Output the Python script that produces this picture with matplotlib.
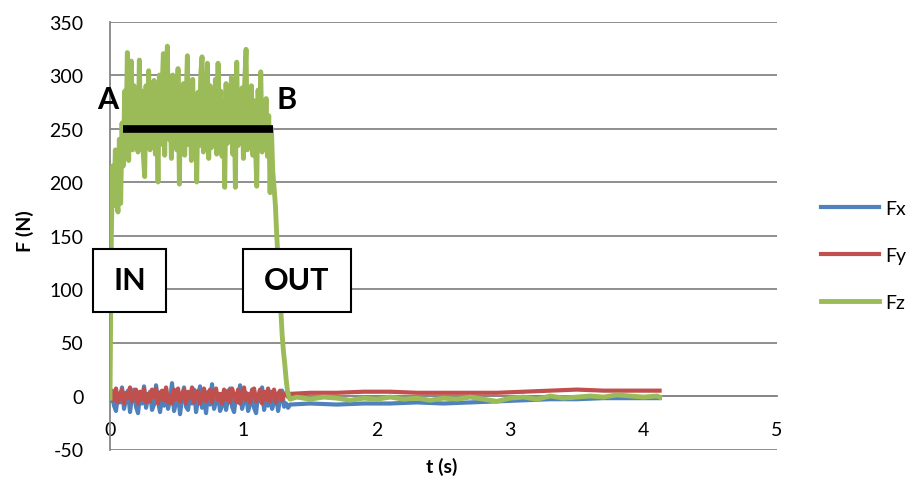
import matplotlib.pyplot as plt
from matplotlib.patches import Rectangle

plt.rcParams['font.family'] = ['Lato', 'DejaVu Sans']
plt.rcParams['axes.unicode_minus'] = False

colors = {"Fx": "#4F81BD", "Fy": "#C0504D", "Fz": "#9BBB59"}
grid_color = "#868686"

# time axis for Fz (s)
t_z = [0.00, 0.01, 0.02, 0.03, 0.04, 0.05, 0.06, 0.07, 0.08, 0.09,
       0.10, 0.11, 0.12, 0.13, 0.14, 0.15, 0.16, 0.17, 0.18, 0.19,
       0.20, 0.21, 0.22, 0.23, 0.24, 0.25, 0.26, 0.27, 0.28, 0.29,
       0.30, 0.31, 0.32, 0.33, 0.34, 0.35, 0.36, 0.37, 0.38, 0.39,
       0.40, 0.41, 0.42, 0.43, 0.44, 0.45, 0.46, 0.47, 0.48, 0.49,
       0.50, 0.51, 0.52, 0.53, 0.54, 0.55, 0.56, 0.57, 0.58, 0.59,
       0.60, 0.61, 0.62, 0.63, 0.64, 0.65, 0.66, 0.67, 0.68, 0.69,
       0.70, 0.71, 0.72, 0.73, 0.74, 0.75, 0.76, 0.77, 0.78, 0.79,
       0.80, 0.81, 0.82, 0.83, 0.84, 0.85, 0.86, 0.87, 0.88, 0.89,
       0.90, 0.91, 0.92, 0.93, 0.94, 0.95, 0.96, 0.97, 0.98, 0.99,
       1.00, 1.01, 1.02, 1.03, 1.04, 1.05, 1.06, 1.07, 1.08, 1.09,
       1.10, 1.11, 1.12, 1.13, 1.14, 1.15, 1.16, 1.17, 1.18, 1.19,
       1.20, 1.21, 1.22, 1.23, 1.24, 1.25, 1.26, 1.27, 1.28, 1.29,
       1.30, 1.31, 1.32, 1.33, 1.34, 1.35,
       1.40, 1.50, 1.60, 1.70, 1.80, 1.90, 2.00, 2.10, 2.20, 2.30,
       2.40, 2.50, 2.60, 2.70, 2.80, 2.90, 3.00, 3.10, 3.20, 3.30,
       3.40, 3.50, 3.60, 3.70, 3.80, 3.90, 4.00, 4.10, 4.12]

fz = [-2, 150, 215, 178, 230, 185, 172, 240, 180, 255,
      215, 285, 240, 321, 220, 300, 313, 230, 290, 245,
      275, 228, 314, 236, 285, 225, 205, 290, 238, 304,
      230, 280, 248, 295, 226, 270, 200, 300, 235, 285,
      320, 225, 290, 327, 240, 278, 222, 300, 236, 286,
      230, 306, 198, 280, 245, 292, 225, 270, 318, 235,
      288, 220, 296, 240, 275, 200, 284, 234, 300, 317,
      228, 282, 246, 311, 222, 290, 232, 278, 244, 296,
      226, 311, 240, 285, 224, 276, 195, 292, 236, 280,
      245, 298, 226, 284, 195, 312, 234, 270, 248, 288,
      222, 294, 324, 230, 280, 244, 290, 225, 276, 238,
      196, 286, 235, 303, 228, 272, 240, 278, 224, 262,
      190, 250, 210, 195, 178, 150, 128, 105, 82, 58,
      42, 30, 16, 5, 0, -3,
      -1, -3, -1, -2, -4, -2, -3, -1, -3, -2,
      -4, -2, -3, -1, -3, -5, -2, -1, -3, 0,
      -2, -1, 0, -1, 1, 0, -1, 0, -1]

# time axis for Fx / Fy (s)
t_xy = [0.000, 0.015, 0.030, 0.045, 0.060, 0.075, 0.090, 0.105, 0.120, 0.135,
        0.150, 0.165, 0.180, 0.195, 0.210, 0.225, 0.240, 0.255, 0.270, 0.285,
        0.300, 0.315, 0.330, 0.345, 0.360, 0.375, 0.390, 0.405, 0.420, 0.435,
        0.450, 0.465, 0.480, 0.495, 0.510, 0.525, 0.540, 0.555, 0.570, 0.585,
        0.600, 0.615, 0.630, 0.645, 0.660, 0.675, 0.690, 0.705, 0.720, 0.735,
        0.750, 0.765, 0.780, 0.795, 0.810, 0.825, 0.840, 0.855, 0.870, 0.885,
        0.900, 0.915, 0.930, 0.945, 0.960, 0.975, 0.990, 1.005, 1.020, 1.035,
        1.050, 1.065, 1.080, 1.095, 1.110, 1.125, 1.140, 1.155, 1.170, 1.185,
        1.200, 1.215, 1.230, 1.245, 1.260, 1.275, 1.290, 1.305, 1.320, 1.335,
        1.350,
        1.50, 1.70, 1.90, 2.10, 2.30, 2.50, 2.70, 2.90, 3.10, 3.30,
        3.50, 3.70, 3.90, 4.10, 4.12]

fx = [-4, 3, -9, -14, 2, -6, 8, -12, -3, 5,
      -15, -1, 6, -10, -16, 1, -7, 9, -11, -2,
      4, -13, -8, 10, -5, -15, 0, -9, 7, -12,
      -4, 12, -14, -6, 3, -17, -2, 8, -10, -13,
      2, -7, 6, -15, -3, 9, -11, -1, -16, 4,
      -8, 11, -12, -5, 1, -14, -9, 5, -13, -2,
      7, -10, -15, 0, -6, 10, -12, -4, 3, -14,
      -8, 6, -11, -16, 1, -5, 8, -13, -2, -9,
      4, -12, -6, 2, -14, -3, 5, -10, -7, -11,
      -8,
      -7, -8, -7, -7, -6, -7, -6, -5, -4, -3,
      -3, -2, -2, -2, -2]

fy = [0, 5, -4, 7, -6, 2, 6, -7, 3, -2,
      8, -5, 1, 6, -7, 4, -3, 7, -6, 2,
      -5, 6, -1, 7, -7, 3, 5, -4, 8, -6,
      1, -7, 6, -3, 7, -5, 2, 6, -7, 4,
      -2, 8, -6, 3, 5, -7, 1, 7, -5, -1,
      6, -6, 4, 7, -4, 2, -7, 6, -3, 5,
      -6, 7, 1, -5, 6, -7, 3, 8, -4, 2,
      -6, 5, 7, -5, 0, 6, -7, 4, -3, 7,
      -5, 3, 6, -6, 2, 5, -4, 1, 3, -1,
      2,
      3, 3, 4, 4, 3, 3, 3, 3, 4, 5,
      6, 5, 5, 5, 5]

x_ticks = [0, 1, 2, 3, 4, 5]
y_ticks = [-50, 0, 50, 100, 150, 200, 250, 300, 350]

# A-B marker line
ab_t = [0.095, 1.222]
ab_f = [250, 250]


def draw_chart():
    fig = plt.figure(figsize=(9.08, 4.85), dpi=100)
    ax = fig.add_axes([110 / 908, 1 - 450.5 / 485, 667 / 908, 428 / 485])

    ax.plot(t_xy, fx, color=colors["Fx"], lw=3, label="Fx", zorder=3)
    ax.plot(t_xy, fy, color=colors["Fy"], lw=3, label="Fy", zorder=3)
    ax.plot(t_z, fz, color=colors["Fz"], lw=3.5, label="Fz", zorder=3)
    ax.plot(ab_t, ab_f, color="black", lw=5.5, solid_capstyle="butt", zorder=4)

    ax.set_xlim(0, 5)
    ax.set_ylim(-50, 350)
    ax.set_xticks(x_ticks)
    ax.set_yticks(y_ticks)
    ax.grid(axis="y", color=grid_color, lw=1.3)
    ax.set_axisbelow(True)

    for s in ["top", "right"]:
        ax.spines[s].set_visible(False)
    ax.spines["left"].set_color(grid_color)
    ax.spines["left"].set_linewidth(1.3)
    ax.spines["bottom"].set_position(("data", 0))
    ax.spines["bottom"].set_color(grid_color)
    ax.spines["bottom"].set_linewidth(1.3)
    ax.spines["bottom"].set_zorder(1)
    ax.tick_params(axis="x", length=0, pad=18, labelsize=14)
    ax.tick_params(axis="y", length=0, pad=19, labelsize=14)

    # annotations
    bold = dict(fontsize=22, fontweight="bold", ha="center", va="center", zorder=7)
    ax.text(-0.015, 278, "A", clip_on=False, **bold)
    ax.text(1.327, 278, "B", clip_on=False, **bold)

    for x0, w, label in [(-0.127, 0.547, "IN"), (0.997, 0.81, "OUT")]:
        box = Rectangle((x0, 78.5), w, 59, facecolor="white", edgecolor="black",
                        lw=1.5, zorder=6, clip_on=False)
        ax.add_patch(box)
        ax.text(x0 + w / 2, 108, label, **bold)

    fig.text(25 / 908, 1 - 231 / 485, "F (N)", rotation=90, fontsize=14,
             fontweight="bold", ha="center", va="center")
    fig.text(442 / 908, 1 - 467 / 485, "t (s)", fontsize=14,
             fontweight="bold", ha="center", va="center")

    fig.legend(loc="upper left", bbox_to_anchor=(821 / 908, 1 - 201 / 485),
               frameon=False, fontsize=14, handlelength=3.0, labelspacing=1.55,
               borderpad=0, borderaxespad=0, handletextpad=0.3)

    fig.savefig("out.png", dpi=100)


if __name__ == "__main__":
    draw_chart()
